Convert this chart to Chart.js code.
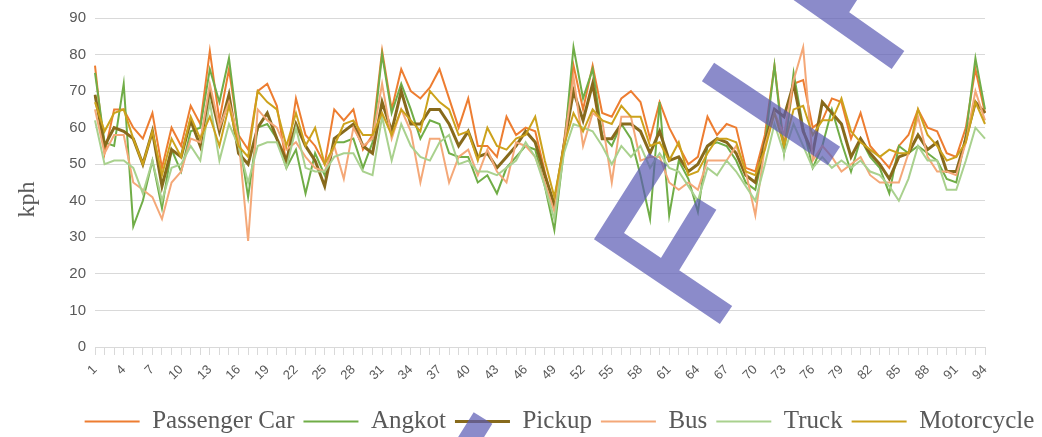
<!DOCTYPE html>
<html>
<head>
<meta charset="utf-8">
<script src="https://cdn.jsdelivr.net/npm/chart.js@4.4.1/dist/chart.umd.min.js"></script>
<style>
  html, body { margin: 0; padding: 0; background: #fff; }
  canvas { display: block; }
</style>
</head>
<body>
<canvas id="chart" width="1042" height="437"></canvas>
<script>
// Category labels 1..94 (every third is printed)
const days = Array.from({ length: 94 }, (_, i) => String(i + 1));

const passengerCar = [77, 53, 65, 65, 60, 57, 64, 49, 60, 55, 66, 61, 81, 62, 76, 58, 54, 70, 72, 66,
    50, 68, 58, 55, 50, 65, 62, 65, 54, 58, 81, 65, 76, 70, 68, 71, 76, 68, 60, 68,
    55, 55, 52, 63, 58, 60, 59, 48, 38, 56, 77, 65, 77, 64, 63, 68, 70, 67, 57, 67,
    60, 55, 50, 52, 63, 58, 61, 60, 49, 48, 58, 77, 55, 72, 73, 60, 62, 68, 67, 57,
    64, 55, 52, 49, 55, 58, 65, 60, 59, 53, 52, 60, 76, 64];
const angkot = [75, 56, 55, 72, 33, 40, 51, 38, 54, 48, 59, 60, 76, 67, 79, 58, 41, 60, 61, 57,
    49, 54, 42, 53, 47, 56, 56, 57, 49, 56, 80, 64, 72, 65, 57, 62, 61, 53, 52, 52,
    45, 47, 42, 49, 52, 55, 54, 44, 32, 54, 82, 68, 76, 58, 55, 61, 57, 47, 35, 67,
    36, 51, 46, 37, 55, 56, 55, 51, 45, 43, 55, 77, 53, 75, 60, 49, 55, 65, 56, 48,
    57, 52, 49, 42, 55, 53, 55, 53, 51, 46, 45, 58, 79, 65];
const pickup = [69, 55, 60, 59, 57, 50, 59, 44, 54, 52, 62, 55, 70, 59, 69, 53, 50, 60, 64, 57,
    51, 61, 55, 51, 44, 57, 59, 61, 55, 53, 67, 59, 70, 61, 61, 65, 65, 61, 55, 59,
    52, 53, 49, 52, 55, 59, 56, 47, 39, 55, 70, 62, 72, 57, 57, 61, 61, 59, 53, 59,
    51, 52, 48, 50, 55, 57, 56, 53, 47, 45, 56, 65, 63, 72, 59, 53, 67, 64, 61, 52,
    57, 53, 50, 46, 52, 53, 58, 54, 56, 48, 48, 57, 67, 64];
const bus = [65, 53, 58, 58, 45, 43, 41, 35, 45, 48, 57, 56, 72, 60, 67, 57, 29, 65, 62, 60,
    54, 56, 52, 49, 48, 55, 46, 60, 55, 57, 72, 57, 65, 59, 45, 57, 57, 45, 52, 54,
    47, 54, 48, 45, 56, 55, 52, 45, 37, 55, 74, 55, 64, 62, 45, 63, 63, 51, 52, 52,
    45, 43, 45, 43, 51, 51, 51, 55, 48, 36, 55, 64, 58, 73, 82, 51, 55, 52, 48, 50,
    52, 47, 45, 45, 45, 53, 63, 52, 48, 48, 47, 56, 70, 62];
const truck = [62, 50, 51, 51, 49, 42, 51, 40, 49, 50, 55, 51, 67, 51, 61, 55, 45, 55, 56, 56,
    49, 60, 49, 48, 48, 52, 53, 53, 48, 47, 63, 51, 61, 55, 52, 51, 56, 58, 50, 51,
    48, 48, 47, 49, 51, 56, 52, 44, 35, 53, 61, 60, 59, 55, 50, 55, 52, 55, 49, 53,
    49, 48, 44, 40, 49, 47, 51, 48, 44, 40, 50, 61, 53, 61, 55, 49, 52, 49, 51, 49,
    51, 48, 47, 44, 40, 46, 55, 51, 51, 43, 43, 51, 60, 57];
const motorcycle = [67, 59, 64, 65, 57, 50, 59, 47, 57, 52, 63, 57, 63, 55, 66, 55, 52, 70, 67, 65,
    55, 64, 55, 60, 50, 55, 61, 62, 58, 58, 64, 58, 65, 62, 59, 70, 67, 65, 58, 59,
    51, 60, 55, 54, 57, 58, 63, 51, 41, 55, 64, 59, 65, 62, 61, 66, 63, 63, 55, 56,
    51, 56, 47, 48, 53, 57, 57, 56, 48, 47, 54, 64, 55, 65, 66, 58, 62, 62, 68, 59,
    56, 54, 52, 54, 53, 53, 65, 58, 55, 51, 52, 56, 67, 61];

const yTicks = { min: 0, max: 90, step: 10 };
const yTitle = 'kph';

const series = [
    { label: 'Passenger Car', data: passengerCar, color: '#ED7D31', width: 2 },
    { label: 'Angkot',        data: angkot,       color: '#70AD47', width: 2 },
    { label: 'Pickup',        data: pickup,       color: '#876A1C', width: 3 },
    { label: 'Bus',           data: bus,          color: '#F4A878', width: 2 },
    { label: 'Truck',         data: truck,        color: '#A9D18E', width: 2 },
    { label: 'Motorcycle',    data: motorcycle,   color: '#CCA21C', width: 2 },
];

const TEXT  = '#595959';
const GRID  = '#d9d9d9';
const SERIF = '"Liberation Serif", "DejaVu Serif", serif';
const SANS  = '"Liberation Sans", Arial, sans-serif';

// y axis title, sits a little below the middle of the plot like the original
const yTitlePlugin = {
    id: 'yTitle',
    afterDraw(chart) {
        const { ctx, chartArea } = chart;
        ctx.save();
        ctx.translate(28, (chartArea.top + chartArea.bottom) / 2 + 17);
        ctx.rotate(-Math.PI / 2);
        ctx.fillStyle = TEXT;
        ctx.font = `24px ${SERIF}`;
        ctx.textAlign = 'center';
        ctx.textBaseline = 'middle';
        ctx.fillText(yTitle, 0, 0);
        ctx.restore();
    },
};

// diagonal stamp that lies over the picture
const stamp = {
    id: 'stamp',
    afterDraw(chart) {
        const ctx = chart.ctx;
        ctx.save();
        ctx.strokeStyle = 'rgba(90, 90, 180, 0.7)';
        ctx.lineWidth = 22;
        ctx.lineCap = 'butt';
        ctx.lineJoin = 'miter';
        ctx.beginPath();
        ctx.moveTo(658, 159); ctx.lineTo(609, 236); ctx.lineTo(726, 315);
        ctx.moveTo(664, 274); ctx.lineTo(707, 204);
        ctx.moveTo(708, 72);  ctx.lineTo(834, 156);
        ctx.moveTo(770, -30); ctx.lineTo(898, 60);
        ctx.moveTo(833, 17);  ctx.lineTo(853, -14);
        ctx.moveTo(458, 458); ctx.lineTo(483, 418);
        ctx.stroke();
        ctx.restore();
    },
};

// nudge the legend row to where the original has it
const legendShift = {
    id: 'legendShift',
    afterLayout(chart) {
        const lg = chart.legend;
        if (!lg) return;
        lg.left += 67;  lg.right += 67;
        lg.top  += 7;   lg.bottom += 7;
    },
};

new Chart(document.getElementById('chart'), {
    type: 'line',
    data: {
        labels: days,
        datasets: series.map((s, i) => ({
            label:           s.label,
            data:            s.data,
            borderColor:     s.color,
            backgroundColor: s.color,
            borderWidth:     s.width,
            pointRadius:     0,
            tension:         0,
            fill:            false,
            order:           series.length - i,
        })),
    },
    options: {
        responsive: false,
        animation:  false,
        layout: { padding: { top: 11, right: 57, left: 0, bottom: 0 } },
        plugins: {
            tooltip: { enabled: false },
            legend: {
                position: 'bottom',
                labels: {
                    sort:            (a, b) => a.datasetIndex - b.datasetIndex,
                    usePointStyle:   true,
                    pointStyle:      'line',
                    pointStyleWidth: 55,
                    padding:         9,
                    color:           TEXT,
                    font:            { family: SERIF, size: 25 },
                },
            },
        },
        scales: {
            x: {
                offset: false,
                grid:   { display: true, drawOnChartArea: false, drawTicks: true, tickLength: 8, color: GRID },
                border: { color: GRID },
                ticks: {
                    autoSkip:    false,
                    maxRotation: 45,
                    minRotation: 45,
                    padding:     7,
                    color:       TEXT,
                    font:        { family: SANS, size: 13 },
                    callback:    (v, i) => (i % 3 === 0 ? days[i] : ''),
                },
                afterFit: scale => { scale.height = 46; },
            },
            y: {
                min: yTicks.min,
                max: yTicks.max,
                grid:   { color: GRID, drawTicks: false },
                border: { display: false },
                ticks: {
                    stepSize: yTicks.step,
                    padding:  9,
                    color:    TEXT,
                    font:     { family: SANS, size: 15 },
                },
                afterFit: scale => { scale.width = 95; },
            },
        },
    },
    plugins: [yTitlePlugin, stamp, legendShift],
});
</script>
</body>
</html>
